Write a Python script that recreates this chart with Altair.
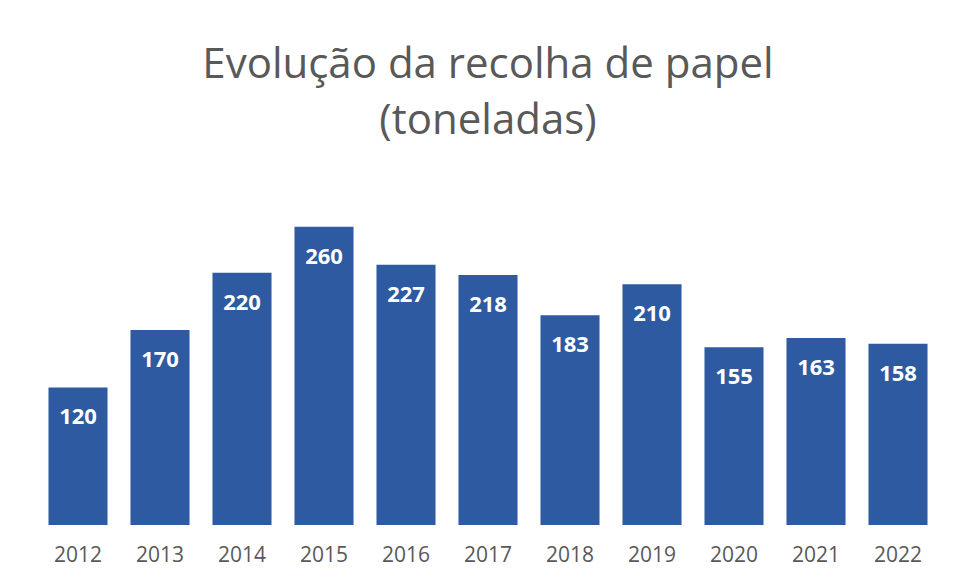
import altair as alt
import pandas as pd

years = ["2012", "2013", "2014", "2015", "2016", "2017", "2018", "2019", "2020", "2021", "2022"]
values = [120, 170, 220, 260, 227, 218, 183, 210, 155, 163, 158]

df = pd.DataFrame({"ano": years, "toneladas": values})

x = alt.X("ano:N", sort=years, title=None,
          scale=alt.Scale(paddingInner=0.28, paddingOuter=0.14),
          axis=alt.Axis(labelAngle=0, domain=False, ticks=False, labelPadding=19,
                        labelFont="Open Sans", labelFontSize=21, labelColor="#595959"))
y = alt.Y("toneladas:Q", title=None, scale=alt.Scale(domain=[0, 300], nice=False),
          axis=None)

bars = alt.Chart(df).mark_bar(color="#2D5AA0").encode(x=x, y=y)
labels = alt.Chart(df).mark_text(color="white", font="Open Sans", fontWeight="bold",
                                 fontSize=22, baseline="middle", dy=30).encode(
    x=x, y=y, text=alt.Text("toneladas:Q"))

chart = (bars + labels).properties(
    width=902, height=344,
    autosize="none",
    background="white",
    padding={"left": 29, "top": 173, "right": 15, "bottom": 48},
    title=alt.TitleParams(["Evolução da recolha de papel", "(toneladas)"],
                          font="Open Sans", fontSize=42, fontWeight="normal",
                          color="#595959", lineHeight=56, anchor="middle", offset=38),
).configure_view(strokeWidth=0)

chart.save("out.html", embed_options={"renderer": "svg", "actions": False})
